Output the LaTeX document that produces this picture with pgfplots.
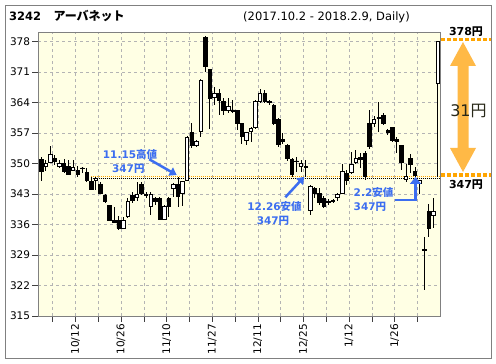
\documentclass[border=0pt]{standalone}
\usepackage{pgfplots}
\pgfplotsset{compat=1.18}
\usepackage{pgfplotstable}
\usepackage{fontspec}
\setmainfont{DejaVu Sans}
\newfontfamily\jp{Noto Sans CJK JP}
\usetikzlibrary{arrows.meta}
\definecolor{bgyellow}{RGB}{255,255,228}
\definecolor{annblue}{RGB}{60,110,240}
\definecolor{annorange}{RGB}{255,165,0}
\definecolor{arrorange}{RGB}{255,185,70}
\definecolor{framegray}{RGB}{128,128,128}
\definecolor{gridgray}{RGB}{180,180,180}
\definecolor{darkolive}{RGB}{40,40,25}

\pgfplotstableread{
j O H L C
0 351.0 351.6 346.1 348.3
1 349.3 350.8 348.3 350.0
2 350.3 354.0 350.2 352.1
3 351.2 352.0 349.7 350.4
4 349.3 350.8 348.9 350.0
5 350.0 351.0 347.8 348.1
6 349.3 350.8 347.3 347.5
7 348.4 350.8 348.2 349.1
8 348.5 349.5 347.0 347.4
9 349.0 349.2 347.9 348.8
10 348.0 349.0 345.8 346.2
11 345.8 346.9 344.0 344.1
12 346.1 347.0 344.0 346.6
13 345.1 345.8 343.0 343.2
14 342.8 343.0 341.0 341.2
15 340.3 340.5 336.8 337.0
16 337.0 340.1 336.3 336.6
17 337.0 338.0 334.8 335.1
18 335.1 337.8 335.0 337.0
19 337.8 342.0 337.5 341.2
20 342.6 343.5 341.0 341.6
21 342.3 345.8 341.5 342.9
22 345.1 345.8 342.8 343.2
23 342.6 343.4 342.0 342.9
24 340.1 343.4 338.2 342.9
25 342.0 342.4 340.5 341.2
26 342.0 342.3 337.0 337.2
27 337.2 340.5 337.0 340.1
28 342.0 342.3 337.8 340.1
29 344.4 345.5 342.4 345.1
30 345.1 347.0 340.1 342.4
31 343.1 346.0 340.2 345.8
32 346.2 356.4 345.9 356.0
33 357.2 359.2 353.5 354.2
34 354.2 355.5 353.9 355.0
35 357.3 369.5 356.2 369.2
36 379.0 379.3 371.0 372.2
37 371.5 371.8 358.0 365.0
38 365.3 367.5 363.5 366.1
39 366.1 367.2 361.1 364.4
40 364.2 365.0 361.1 362.2
41 362.3 365.0 361.5 363.1
42 362.3 364.6 361.5 361.9
43 362.1 362.3 357.7 359.2
44 359.2 359.4 354.6 356.2
45 355.4 357.3 354.2 357.1
46 357.4 358.4 355.0 358.1
47 358.3 364.5 358.0 364.2
48 364.3 367.0 364.0 366.1
49 366.1 367.0 363.8 364.2
50 364.2 364.5 363.5 364.0
51 363.3 363.6 358.8 359.2
52 360.1 360.4 353.9 354.4
53 355.5 357.0 354.5 355.0
54 354.1 354.5 350.5 351.2
55 351.0 351.3 347.0 347.4
56 350.6 351.4 348.1 350.4
57 349.4 350.8 348.0 350.0
58 349.3 350.8 347.0 349.2
59 339.3 345.0 338.2 344.7
60 344.3 344.7 342.0 343.2
61 343.2 344.3 340.5 341.0
62 342.0 342.5 339.8 340.1
63 341.2 341.8 340.5 341.1
64 341.2 341.8 341.0 341.5
65 342.2 343.2 341.5 343.0
66 343.2 350.0 343.0 348.1
67 347.8 348.5 345.1 346.2
68 347.9 352.7 347.5 349.9
69 350.3 353.1 350.0 351.2
70 351.5 352.5 349.0 351.0
71 352.3 352.8 346.2 347.0
72 359.2 362.2 353.3 354.0
73 359.2 361.0 358.5 360.1
74 360.6 364.2 357.3 360.3
75 361.1 361.5 358.8 359.2
76 357.6 358.0 356.5 357.2
77 358.2 358.5 355.0 355.4
78 355.5 356.0 352.5 355.0
79 354.1 354.3 348.5 350.3
80 346.3 350.0 345.8 347.1
81 351.2 352.2 347.8 349.9
82 348.1 349.2 347.0 347.2
83 345.4 346.3 343.1 346.1
84 330.3 333.2 321.0 330.0
85 338.9 340.8 333.2 335.1
86 338.0 342.2 335.1 338.9
87 368.3 378.0 347.0 378.0
}\candles

\pgfplotsset{
  common/.style={
    at={(38.3pt,48pt)}, anchor=south west,
    scale only axis, width=401.7pt, height=284pt,
    xmin=-0.64, xmax=87.45, ymin=315, ymax=380.2,
  }
}

\begin{document}
\begin{tikzpicture}[x=1pt,y=1pt]
\path[use as bounding box] (0,0) rectangle (496,364);
\fill[white] (0,0) rectangle (496,364);
\draw[framegray, line width=1pt] (5.7,5) rectangle (491.7,358.3);

% title
\node[anchor=base west, inner sep=0pt, font=\fontsize{11.5}{13}\selectfont\bfseries] at (9,343.3) {3242};
\node[anchor=base west, inner sep=0pt, font=\fontsize{12}{14}\selectfont\jp\bfseries] at (53.3,343.3) {アーバネット};
\node[anchor=base west, inner sep=0pt, font=\fontsize{11.5}{13}\selectfont] at (243,343.3) {(2017.10.2 - 2018.2.9, Daily)};

\begin{axis}[common,
  axis background/.style={fill=bgyellow},
  axis line style={framegray, line width=0.8pt},
  grid=major,
  grid style={gridgray, dash pattern=on 3pt off 3pt, line width=0.6pt},
  ytick={315,322,...,378},
  xtick={2.5,7.5,...,87.5},
  xticklabels={{},10/12,{},10/26,{},11/10,{},11/27,{},12/11,{},12/25,{},1/12,{},1/26,{},2/9},
  tick align=outside, major tick length=6pt,
  tick style={draw=black!75, line width=0.6pt},
  xtick pos=bottom, ytick pos=left,
  /pgf/number format/assume math mode=true,
  yticklabel style={font=\fontsize{10.5}{12}\selectfont, inner sep=2pt},
  xticklabel style={font=\fontsize{10.5}{12}\selectfont, rotate=90, anchor=east, inner sep=2pt},
]
% 347 reference lines
\addplot[annorange, line width=0.9pt, dash pattern=on 1pt off 1pt] coordinates {(11,347.15) (87.45,347.15)};
\addplot[black, line width=0.8pt, dash pattern=on 1pt off 1pt] coordinates {(11.3,346.6) (87.45,346.6)};
% wicks
\addplot[draw=none, mark=none, error bars/.cd, y dir=both, y explicit, error mark=none,
  error bar style={draw=black, solid, line width=0.9pt}]
  table[x=j, y expr={(\thisrow{H}+\thisrow{L})/2}, y error expr={(\thisrow{H}-\thisrow{L})/2}] {\candles};
\end{axis}

\begin{axis}[common, hide axis, ybar stacked, bar width=3.5pt]
\addplot[draw=none, fill=none] table[x=j, y expr={min(\thisrow{O},\thisrow{C})}] {\candles};
\addplot[draw=black, fill=white, line width=0.8pt] table[x=j, y expr={max(\thisrow{C}-\thisrow{O},0)}] {\candles};
\addplot[draw=black, fill=black, line width=0.8pt] table[x=j, y expr={max(\thisrow{O}-\thisrow{C},0)}] {\candles};
\end{axis}

% blue annotations
\begin{scope}[annblue]
\node[font=\fontsize{10.5}{12}\selectfont\bfseries, inner sep=0pt] at (130,209.5) {11.15{\jp\bfseries 高値}};
\node[font=\fontsize{10.5}{12}\selectfont\bfseries, inner sep=0pt] at (128.3,195) {347{\jp\bfseries 円}};
\draw[line width=2.5pt, -{Triangle[width=9pt,length=7pt]}] (149.3,204.7) -- (176.7,189);
\node[font=\fontsize{10.5}{12}\selectfont\bfseries, inner sep=0pt] at (274.5,157) {12.26{\jp\bfseries 安値}};
\node[font=\fontsize{10.5}{12}\selectfont\bfseries, inner sep=0pt] at (273,143) {347{\jp\bfseries 円}};
\draw[line width=2.5pt, -{Triangle[width=9pt,length=7pt]}] (285.3,166.7) -- (304.3,187.3);
\node[anchor=west, font=\fontsize{10.5}{12}\selectfont\bfseries, inner sep=0pt] at (353.5,171.5) {2.2{\jp\bfseries 安値}};
\node[anchor=west, font=\fontsize{10.5}{12}\selectfont\bfseries, inner sep=0pt] at (353.5,157.3) {347{\jp\bfseries 円}};
\draw[line width=2.8pt, -{Triangle[width=11pt,length=7pt]}] (395.3,164) -- (415.5,164) -- (415.5,187);
\end{scope}

% right side range annotation
\draw[annorange, line width=3.5pt, dash pattern=on 3.5pt off 2.5pt] (441,324.7) -- (491,324.7);
\draw[annorange, line width=3.5pt, dash pattern=on 3.5pt off 2.5pt] (441,189) -- (491,189);
\node[font=\fontsize{11}{12}\selectfont\bfseries, inner sep=0pt] at (466,332.5) {378{\jp\bfseries 円}};
\node[font=\fontsize{11}{12}\selectfont\bfseries, inner sep=0pt] at (466,179.5) {347{\jp\bfseries 円}};
\fill[arrorange] (463,322) -- (476,298) -- (468.5,298) -- (468.5,216) -- (476,216) -- (463,192) -- (450,216) -- (457.5,216) -- (457.5,298) -- (450,298) -- cycle;
\node[darkolive, font=\fontsize{16}{18}\selectfont, inner sep=0pt] at (468.5,253) {31{\jp 円}};
\end{tikzpicture}
\end{document}
